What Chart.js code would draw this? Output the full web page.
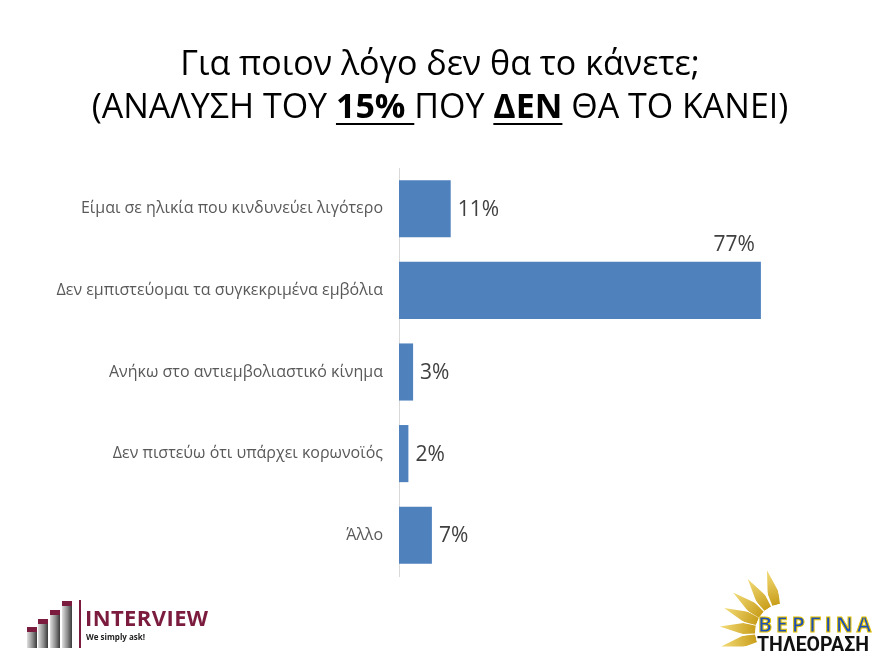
<!DOCTYPE html>
<html>
<head>
<meta charset="utf-8">
<script src="https://cdn.jsdelivr.net/npm/chart.js@4"></script>
<style>
  body { margin: 0; background: #fff; }
  #wrap { position: relative; width: 880px; height: 660px; overflow: hidden; }
  #chart { position: absolute; left: 0; top: 0; }
  .title { position: absolute; left: 0; width: 880px; text-align: center; font-family: "Open Sans", sans-serif; color: #000; font-size: 34px; line-height: 44px; }
  .title b { font-weight: 700; text-decoration: underline; text-decoration-thickness: 2px; text-underline-offset: 5px; }
  #iv { position: absolute; left: 27px; top: 598px; width: 200px; height: 56px; }
  .ivbar { position: absolute; bottom: 6px; width: 10px; background: linear-gradient(90deg,#e0e0e0,#8c8c8c 55%,#3a3a3a); border-top: 5px solid #7b1c3e; }
  #iv .line { position: absolute; left: 52px; top: 2px; width: 2px; height: 48px; background: #7b1c3e; }
  #iv .name { position: absolute; left: 58px; top: 4px; font: 700 22px "Open Sans", sans-serif; color: #7b1c3e; letter-spacing: 0.4px; }
  #iv .sub { position: absolute; left: 59px; top: 33px; font: 700 8px "Open Sans", sans-serif; color: #222; }
  #vg { position: absolute; left: 700px; top: 565px; width: 180px; height: 95px; }
  .ray { position: absolute; left: 77.5px; top: 3px; width: 11px; height: 36px; clip-path: polygon(50% 0, 100% 65%, 85% 100%, 15% 100%, 0 65%); background: linear-gradient(#f3dc7a,#c99e1a); transform-origin: 5.5px 64px; }
  #vg .v1 { position: absolute; left: 58px; top: 45px; font: 700 21px "Open Sans", sans-serif; color: #1d4fb8; -webkit-text-stroke: 1px #e5c300; letter-spacing: 4px; }
  #vg .v2 { position: absolute; left: 57px; top: 68px; font: 700 19.5px "Roboto", sans-serif; color: #111; }
</style>
</head>
<body>
<div id="wrap">
  <canvas id="chart" width="880" height="660"></canvas>
  <div class="title" style="top:40px">Για ποιον λόγο δεν θα το κάνετε;</div>
  <div class="title" style="top:83px">(ΑΝΑΛΥΣΗ ΤΟΥ <b>15% </b>ΠΟΥ <b>ΔΕΝ</b> ΘΑ ΤΟ ΚΑΝΕΙ)</div>
  <div id="iv">
    <div class="ivbar" style="left:0;height:16px"></div>
    <div class="ivbar" style="left:11px;height:24px"></div>
    <div class="ivbar" style="left:23px;height:33px"></div>
    <div class="ivbar" style="left:35px;height:42px"></div>
    <div class="line"></div>
    <div class="name">INTERVIEW</div>
    <div class="sub">We simply ask!</div>
  </div>
  <div id="vg">
    <div class="ray" style="transform:rotate(-15deg)"></div>
    <div class="ray" style="transform:rotate(-34deg)"></div>
    <div class="ray" style="transform:rotate(-52deg)"></div>
    <div class="ray" style="transform:rotate(-68deg)"></div>
    <div class="ray" style="transform:rotate(-85deg)"></div>
    <div class="ray" style="transform:rotate(-103deg)"></div>
    <div class="v1">ΒΕΡΓΙΝΑ</div>
    <div class="v2">ΤΗΛΕΟΡΑΣΗ</div>
  </div>
</div>
<script>
const categories = [
  'Είμαι σε ηλικία που κινδυνεύει λιγότερο',
  'Δεν εμπιστεύομαι τα συγκεκριμένα εμβόλια',
  'Ανήκω στο αντιεμβολιαστικό κίνημα',
  'Δεν πιστεύω ότι υπάρχει κορωνοϊός',
  'Άλλο'
];
const values = [11, 77, 3, 2, 7];
const xMax = 100;

const valueLabels = {
  id: 'valueLabels',
  afterDatasetsDraw(chart) {
    const ctx = chart.ctx;
    const meta = chart.getDatasetMeta(0);
    const top = Math.max(...values);
    ctx.save();
    ctx.font = '21px "Open Sans", sans-serif';
    ctx.fillStyle = '#404040';
    ctx.textBaseline = 'middle';
    meta.data.forEach((bar, i) => {
      const txt = values[i] + '%';
      if (values[i] === top) {
        ctx.textAlign = 'right';
        ctx.fillText(txt, bar.x - 6, bar.y - bar.height / 2 - 17);
      } else {
        ctx.textAlign = 'left';
        ctx.fillText(txt, bar.x + 7, bar.y + 1);
      }
    });
    ctx.restore();
  }
};

new Chart(document.getElementById('chart'), {
  type: 'bar',
  data: {
    labels: categories,
    datasets: [{
      data: values,
      backgroundColor: '#4f81bd',
      barPercentage: 0.7,
      categoryPercentage: 1
    }]
  },
  options: {
    indexAxis: 'y',
    responsive: false,
    animation: false,
    layout: { padding: { top: 168, bottom: 84, left: 0, right: 11 } },
    plugins: { legend: { display: false }, tooltip: { enabled: false } },
    scales: {
      x: { display: false, min: 0, max: xMax },
      y: {
        afterFit(scale) { scale.width = 399; },
        grid: { color: 'transparent', drawTicks: false },
        border: { display: true, color: '#d9d9d9', width: 1 },
        ticks: { color: '#595959', padding: 16, font: { family: '"Open Sans", sans-serif', size: 16 } }
      }
    }
  },
  plugins: [valueLabels]
});
</script>
</body>
</html>
